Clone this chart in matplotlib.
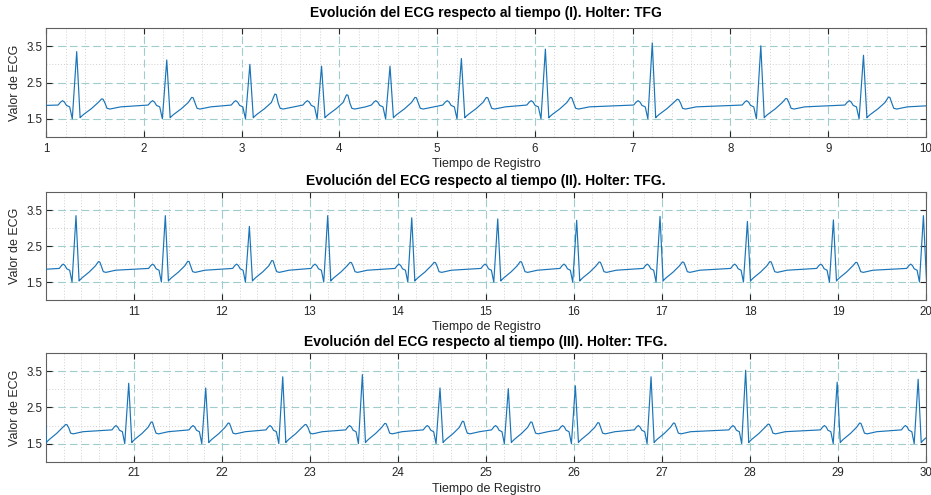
import numpy as np
import matplotlib
matplotlib.use("Agg")
import matplotlib.pyplot as plt
from matplotlib.ticker import MultipleLocator

plt.rcParams['font.family'] = ['Liberation Sans', 'DejaVu Sans']

# ---- data ----
# R-peak instants (Tiempo de Registro) and their heights
r_times = [1.314, 2.235, 3.085, 3.818, 4.518, 5.248, 6.107, 7.20, 8.31, 9.36,
           10.341, 11.356, 12.311, 13.201, 14.156, 15.133, 16.03, 16.977, 17.97, 18.947, 19.97,
           20.94, 21.815, 22.69, 23.595, 24.477, 25.253, 26.015, 26.875, 27.95, 28.99, 29.91]
r_heights = [3.35, 3.12, 3.00, 2.95, 2.95, 3.16, 3.42, 3.59, 3.51, 3.25,
             3.35, 3.35, 3.05, 3.35, 3.29, 3.26, 3.22, 3.33, 3.19, 3.23, 3.35,
             3.17, 3.04, 3.35, 3.41, 3.04, 3.02, 3.10, 3.35, 3.53, 3.20, 3.28]
# T-wave peak heights
t_heights = [2.05, 2.09, 2.18, 2.16, 2.09, 2.09, 2.09, 2.04, 2.06, 2.10,
             2.07, 2.08, 2.10, 2.05, 2.05, 2.07, 2.06, 2.06, 2.07, 2.05, 2.03,
             2.10, 2.07, 2.03, 2.06, 2.12, 2.10, 2.08, 2.07, 2.04, 2.07, 2.07]
# one beat: offsets from the R peak and levels (R / T marked)
wave_offsets = [-0.19, -0.165, -0.145, -0.125, -0.105, -0.072, -0.045, 0.0, 0.035, 0.045,
                0.07, 0.15, 0.22, 0.255, 0.27, 0.29, 0.31, 0.34, 0.45]
wave_levels = [1.88, 1.96, 2.00, 1.96, 1.87, 1.83, 1.50, 'R', 1.53, 1.56,
               1.62, 1.78, 1.95, 'T', 'T-', 1.93, 1.79, 1.77, 1.83]
start_time, start_level = 1.0, 1.87

panel_titles = ['Evolución del ECG respecto al tiempo (I). Holter: TFG',
                'Evolución del ECG respecto al tiempo (II). Holter: TFG.',
                'Evolución del ECG respecto al tiempo (III). Holter: TFG.']
panel_xlims = [(1, 10), (10, 20), (20, 30)]
panel_xticks = [list(range(1, 11)), list(range(11, 21)), list(range(21, 31))]
y_ticks = [1.5, 2.5, 3.5]
y_ticklabels = ['1.5', '2.5', '3.5']
y_lim = (1, 4)

# ---- build the trace from the beat knots ----
tt = [start_time]
vv = [start_level]
for tr, rh, th in zip(r_times, r_heights, t_heights):
    for off, lev in zip(wave_offsets, wave_levels):
        if lev == 'R':
            val = rh
        elif lev == 'T':
            val = th
        elif lev == 'T-':
            val = th - 0.01
        else:
            val = lev
        tt.append(tr + off)
        vv.append(val)
tt = np.array(tt)
vv = np.array(vv)

fig = plt.figure(figsize=(9.31, 4.95), dpi=100)
positions = [[0.0494, 0.7232, 0.9453, 0.2202],
             [0.0494, 0.3939, 0.9453, 0.2176],
             [0.0494, 0.0673, 0.9453, 0.2190]]
title_pads = [8, 5, 5]

txt = '#262626'
for pos, title, xl, xt, tp in zip(positions, panel_titles, panel_xlims, panel_xticks, title_pads):
    ax = fig.add_axes(pos)
    ax.plot(tt, vv, color='#1a74b8', lw=0.85, zorder=3)
    ax.set_xlim(*xl)
    ax.set_ylim(*y_lim)
    ax.set_xticks(xt)
    ax.set_xticklabels([str(v) for v in xt])
    ax.set_yticks(y_ticks)
    ax.set_yticklabels(y_ticklabels)
    ax.xaxis.set_minor_locator(MultipleLocator(0.2))
    ax.yaxis.set_minor_locator(MultipleLocator(0.5))
    ax.set_axisbelow(True)
    ax.grid(which='major', color='#a0cccc', ls=(0, (7, 3.5)), lw=0.8)
    ax.grid(which='minor', color='#cfcfcf', ls=(0, (1, 2)), lw=0.7)
    ax.tick_params(which='major', direction='in', top=True, right=True, length=4,
                   width=0.8, colors=txt, labelsize=8.3, pad=4)
    ax.tick_params(axis='y', which='major', pad=2.5)
    ax.tick_params(which='minor', length=0)
    for s in ax.spines.values():
        s.set_color('#606060')
        s.set_linewidth(0.8)
    ax.set_title(title, fontsize=10, fontweight='bold', color='black', pad=tp)
    ax.set_xlabel('Tiempo de Registro', fontsize=9, color=txt, labelpad=2.5)
    ax.set_ylabel('Valor de ECG', fontsize=9, color=txt, labelpad=4)

fig.savefig('out.png', dpi=100)
